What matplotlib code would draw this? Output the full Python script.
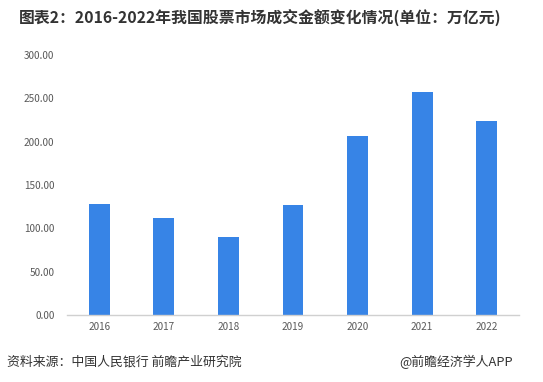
import matplotlib
matplotlib.use("Agg")
import matplotlib.pyplot as plt
import numpy as np

plt.rcParams['font.family'] = ['Noto Sans CJK SC', 'DejaVu Sans']

years = ['2016', '2017', '2018', '2019', '2020', '2021', '2022']
amounts = [128.0, 112.0, 90.0, 127.0, 206.5, 257.5, 224.0]  # 万亿元

fig = plt.figure(figsize=(5.43, 3.82), dpi=100)
ax = fig.add_axes([0.1234, 0.1754, 0.8324, 0.6806])

x = np.arange(len(years))
ax.bar(x, amounts, width=0.325, color='#3784E6', zorder=2)

ax.set_xlim(-0.5, len(years) - 0.5)
ax.set_ylim(0, 300)
ax.set_yticks(np.arange(0, 301, 50))
ax.set_yticklabels([f"{v:.2f}" for v in np.arange(0, 301, 50)])
ax.set_xticks(x)
ax.set_xticklabels(years)

for s in ['top', 'right', 'left']:
    ax.spines[s].set_visible(False)
ax.spines['bottom'].set_color('#d0d0d0')
ax.spines['bottom'].set_linewidth(1.0)
ax.tick_params(axis='both', length=0, labelsize=7.2, labelcolor='#595959')
ax.tick_params(axis='y', pad=9)
ax.tick_params(axis='x', pad=5)

fig.text(0.479, 0.955, "图表2：2016-2022年我国股票市场成交金额变化情况(单位：万亿元)",
         ha='center', va='center', fontsize=11.4, fontweight='bold', color='#333333')
fig.text(0.013, 0.052, "资料来源：中国人民银行 前瞻产业研究院",
         ha='left', va='center', fontsize=9.3, color='#333333')
fig.text(0.945, 0.052, "@前瞻经济学人APP",
         ha='right', va='center', fontsize=9.3, color='#333333')

fig.savefig("out.png", dpi=100)
